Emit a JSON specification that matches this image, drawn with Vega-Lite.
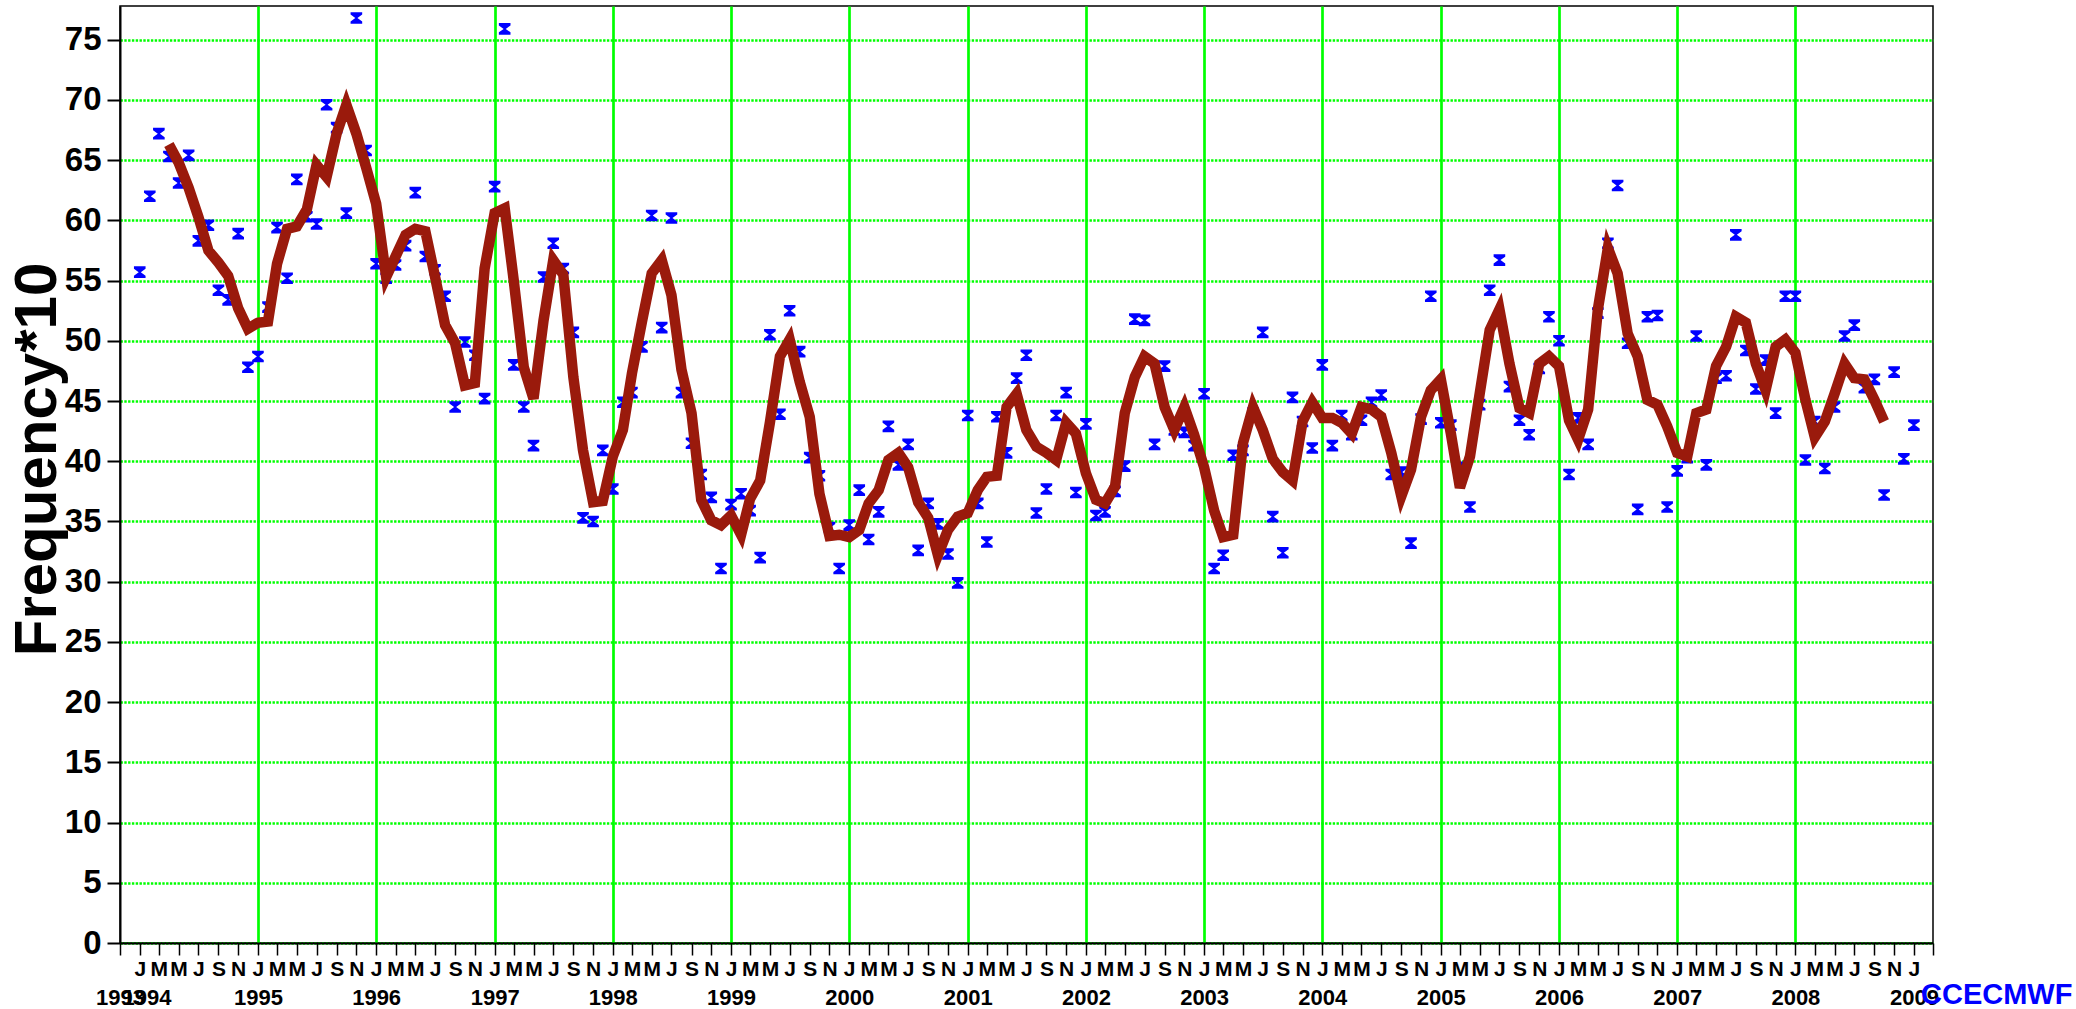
{
  "$schema": "https://vega.github.io/schema/vega-lite/v6.json",
  "width": 1813,
  "height": 937,
  "autosize": {"type": "none"},
  "padding": {"left": 120, "top": 6, "right": 143, "bottom": 66},
  "config": {"font": "Liberation Sans", "view": {"stroke": "#000", "strokeWidth": 1.5}},
  "title": {"text": "CCECMWF", "orient": "bottom", "anchor": "start", "frame": "group", "fontSize": 29, "fontWeight": "bold", "color": "#0000ff", "font": "Liberation Sans", "dx": 1801, "offset": 0, "dy": -4, "baseline": "alphabetic"},
  "datasets": {
    "points": [
      {"date": "1994-01-01", "value": 55.7}, {"date": "1994-02-01", "value": 62.0}, {"date": "1994-03-01", "value": 67.2}, {"date": "1994-04-01", "value": 65.3}, {"date": "1994-05-01", "value": 63.1}, {"date": "1994-06-01", "value": 65.4}, {"date": "1994-07-01", "value": 58.3}, {"date": "1994-08-01", "value": 59.6}, {"date": "1994-09-01", "value": 54.2}, {"date": "1994-10-01", "value": 53.4}, {"date": "1994-11-01", "value": 58.9}, {"date": "1994-12-01", "value": 47.8},
      {"date": "1995-01-01", "value": 48.7}, {"date": "1995-02-01", "value": 52.8}, {"date": "1995-03-01", "value": 59.4}, {"date": "1995-04-01", "value": 55.2}, {"date": "1995-05-01", "value": 63.4}, {"date": "1995-06-01", "value": 60.3}, {"date": "1995-07-01", "value": 59.7}, {"date": "1995-08-01", "value": 69.6}, {"date": "1995-09-01", "value": 67.7}, {"date": "1995-10-01", "value": 60.6}, {"date": "1995-11-01", "value": 76.8}, {"date": "1995-12-01", "value": 65.8},
      {"date": "1996-01-01", "value": 56.4}, {"date": "1996-02-01", "value": 55.2}, {"date": "1996-03-01", "value": 56.3}, {"date": "1996-04-01", "value": 57.9}, {"date": "1996-05-01", "value": 62.3}, {"date": "1996-06-01", "value": 57.0}, {"date": "1996-07-01", "value": 55.9}, {"date": "1996-08-01", "value": 53.7}, {"date": "1996-09-01", "value": 44.5}, {"date": "1996-10-01", "value": 49.9}, {"date": "1996-11-01", "value": 48.8}, {"date": "1996-12-01", "value": 45.2},
      {"date": "1997-01-01", "value": 62.8}, {"date": "1997-02-01", "value": 75.9}, {"date": "1997-03-01", "value": 48.0}, {"date": "1997-04-01", "value": 44.5}, {"date": "1997-05-01", "value": 41.3}, {"date": "1997-06-01", "value": 55.3}, {"date": "1997-07-01", "value": 58.1}, {"date": "1997-08-01", "value": 56.0}, {"date": "1997-09-01", "value": 50.7}, {"date": "1997-10-01", "value": 35.3}, {"date": "1997-11-01", "value": 35.0}, {"date": "1997-12-01", "value": 40.9},
      {"date": "1998-01-01", "value": 37.7}, {"date": "1998-02-01", "value": 44.9}, {"date": "1998-03-01", "value": 45.7}, {"date": "1998-04-01", "value": 49.5}, {"date": "1998-05-01", "value": 60.4}, {"date": "1998-06-01", "value": 51.1}, {"date": "1998-07-01", "value": 60.2}, {"date": "1998-08-01", "value": 45.7}, {"date": "1998-09-01", "value": 41.5}, {"date": "1998-10-01", "value": 38.9}, {"date": "1998-11-01", "value": 37.0}, {"date": "1998-12-01", "value": 31.1},
      {"date": "1999-01-01", "value": 36.4}, {"date": "1999-02-01", "value": 37.3}, {"date": "1999-03-01", "value": 35.9}, {"date": "1999-04-01", "value": 32.0}, {"date": "1999-05-01", "value": 50.5}, {"date": "1999-06-01", "value": 43.9}, {"date": "1999-07-01", "value": 52.5}, {"date": "1999-08-01", "value": 49.1}, {"date": "1999-09-01", "value": 40.3}, {"date": "1999-10-01", "value": 38.8}, {"date": "1999-11-01", "value": 34.5}, {"date": "1999-12-01", "value": 31.1},
      {"date": "2000-01-01", "value": 34.7}, {"date": "2000-02-01", "value": 37.6}, {"date": "2000-03-01", "value": 33.5}, {"date": "2000-04-01", "value": 35.8}, {"date": "2000-05-01", "value": 42.9}, {"date": "2000-06-01", "value": 39.7}, {"date": "2000-07-01", "value": 41.4}, {"date": "2000-08-01", "value": 32.6}, {"date": "2000-09-01", "value": 36.5}, {"date": "2000-10-01", "value": 34.8}, {"date": "2000-11-01", "value": 32.3}, {"date": "2000-12-01", "value": 29.9},
      {"date": "2001-01-01", "value": 43.8}, {"date": "2001-02-01", "value": 36.5}, {"date": "2001-03-01", "value": 33.3}, {"date": "2001-04-01", "value": 43.7}, {"date": "2001-05-01", "value": 40.7}, {"date": "2001-06-01", "value": 46.9}, {"date": "2001-07-01", "value": 48.8}, {"date": "2001-08-01", "value": 35.7}, {"date": "2001-09-01", "value": 37.7}, {"date": "2001-10-01", "value": 43.8}, {"date": "2001-11-01", "value": 45.7}, {"date": "2001-12-01", "value": 37.4},
      {"date": "2002-01-01", "value": 43.1}, {"date": "2002-02-01", "value": 35.5}, {"date": "2002-03-01", "value": 35.8}, {"date": "2002-04-01", "value": 37.5}, {"date": "2002-05-01", "value": 39.6}, {"date": "2002-06-01", "value": 51.8}, {"date": "2002-07-01", "value": 51.7}, {"date": "2002-08-01", "value": 41.4}, {"date": "2002-09-01", "value": 47.9}, {"date": "2002-10-01", "value": 42.6}, {"date": "2002-11-01", "value": 42.4}, {"date": "2002-12-01", "value": 41.3},
      {"date": "2003-01-01", "value": 45.6}, {"date": "2003-02-01", "value": 31.1}, {"date": "2003-03-01", "value": 32.2}, {"date": "2003-04-01", "value": 40.5}, {"date": "2003-05-01", "value": 40.9}, {"date": "2003-06-01", "value": 44.0}, {"date": "2003-07-01", "value": 50.7}, {"date": "2003-08-01", "value": 35.4}, {"date": "2003-09-01", "value": 32.4}, {"date": "2003-10-01", "value": 45.3}, {"date": "2003-11-01", "value": 43.3}, {"date": "2003-12-01", "value": 41.1},
      {"date": "2004-01-01", "value": 48.0}, {"date": "2004-02-01", "value": 41.3}, {"date": "2004-03-01", "value": 43.8}, {"date": "2004-04-01", "value": 42.2}, {"date": "2004-05-01", "value": 43.4}, {"date": "2004-06-01", "value": 44.9}, {"date": "2004-07-01", "value": 45.5}, {"date": "2004-08-01", "value": 38.9}, {"date": "2004-09-01", "value": 39.1}, {"date": "2004-10-01", "value": 33.2}, {"date": "2004-11-01", "value": 43.5}, {"date": "2004-12-01", "value": 53.7},
      {"date": "2005-01-01", "value": 43.2}, {"date": "2005-02-01", "value": 43.0}, {"date": "2005-03-01", "value": 39.5}, {"date": "2005-04-01", "value": 36.2}, {"date": "2005-05-01", "value": 44.7}, {"date": "2005-06-01", "value": 54.2}, {"date": "2005-07-01", "value": 56.7}, {"date": "2005-08-01", "value": 46.2}, {"date": "2005-09-01", "value": 43.4}, {"date": "2005-10-01", "value": 42.2}, {"date": "2005-11-01", "value": 47.7}, {"date": "2005-12-01", "value": 52.0},
      {"date": "2006-01-01", "value": 50.0}, {"date": "2006-02-01", "value": 38.9}, {"date": "2006-03-01", "value": 43.6}, {"date": "2006-04-01", "value": 41.4}, {"date": "2006-05-01", "value": 52.3}, {"date": "2006-06-01", "value": 58.1}, {"date": "2006-07-01", "value": 62.9}, {"date": "2006-08-01", "value": 49.8}, {"date": "2006-09-01", "value": 36.0}, {"date": "2006-10-01", "value": 52.0}, {"date": "2006-11-01", "value": 52.1}, {"date": "2006-12-01", "value": 36.2},
      {"date": "2007-01-01", "value": 39.2}, {"date": "2007-02-01", "value": 40.3}, {"date": "2007-03-01", "value": 50.4}, {"date": "2007-04-01", "value": 39.7}, {"date": "2007-05-01", "value": 46.9}, {"date": "2007-06-01", "value": 47.1}, {"date": "2007-07-01", "value": 58.8}, {"date": "2007-08-01", "value": 49.2}, {"date": "2007-09-01", "value": 46.0}, {"date": "2007-10-01", "value": 48.4}, {"date": "2007-11-01", "value": 44.0}, {"date": "2007-12-01", "value": 53.7},
      {"date": "2008-01-01", "value": 53.7}, {"date": "2008-02-01", "value": 40.1}, {"date": "2008-03-01", "value": 43.3}, {"date": "2008-04-01", "value": 39.4}, {"date": "2008-05-01", "value": 44.5}, {"date": "2008-06-01", "value": 50.4}, {"date": "2008-07-01", "value": 51.3}, {"date": "2008-08-01", "value": 46.1}, {"date": "2008-09-01", "value": 46.8}, {"date": "2008-10-01", "value": 37.2}, {"date": "2008-11-01", "value": 47.4}, {"date": "2008-12-01", "value": 40.2},
      {"date": "2009-01-01", "value": 43.0}
    ],
    "line": [
      {"date": "1994-04-01", "value": 66.3}, {"date": "1994-05-01", "value": 64.8}, {"date": "1994-06-01", "value": 62.7}, {"date": "1994-07-01", "value": 60.3}, {"date": "1994-08-01", "value": 57.5}, {"date": "1994-09-01", "value": 56.5}, {"date": "1994-10-01", "value": 55.4}, {"date": "1994-11-01", "value": 52.7}, {"date": "1994-12-01", "value": 51.0},
      {"date": "1995-01-01", "value": 51.5}, {"date": "1995-02-01", "value": 51.6}, {"date": "1995-03-01", "value": 56.4}, {"date": "1995-04-01", "value": 59.3}, {"date": "1995-05-01", "value": 59.5}, {"date": "1995-06-01", "value": 60.9}, {"date": "1995-07-01", "value": 64.6}, {"date": "1995-08-01", "value": 63.6}, {"date": "1995-09-01", "value": 67.2}, {"date": "1995-10-01", "value": 69.6}, {"date": "1995-11-01", "value": 67.2}, {"date": "1995-12-01", "value": 64.4},
      {"date": "1996-01-01", "value": 61.4}, {"date": "1996-02-01", "value": 55.3}, {"date": "1996-03-01", "value": 57.0}, {"date": "1996-04-01", "value": 58.8}, {"date": "1996-05-01", "value": 59.3}, {"date": "1996-06-01", "value": 59.1}, {"date": "1996-07-01", "value": 55.3}, {"date": "1996-08-01", "value": 51.3}, {"date": "1996-09-01", "value": 49.8}, {"date": "1996-10-01", "value": 46.3}, {"date": "1996-11-01", "value": 46.5}, {"date": "1996-12-01", "value": 56.0},
      {"date": "1997-01-01", "value": 60.6}, {"date": "1997-02-01", "value": 61.0}, {"date": "1997-03-01", "value": 55.0}, {"date": "1997-04-01", "value": 47.8}, {"date": "1997-05-01", "value": 45.2}, {"date": "1997-06-01", "value": 51.7}, {"date": "1997-07-01", "value": 56.7}, {"date": "1997-08-01", "value": 55.5}, {"date": "1997-09-01", "value": 47.0}, {"date": "1997-10-01", "value": 40.9}, {"date": "1997-11-01", "value": 36.6}, {"date": "1997-12-01", "value": 36.7},
      {"date": "1998-01-01", "value": 40.4}, {"date": "1998-02-01", "value": 42.6}, {"date": "1998-03-01", "value": 47.3}, {"date": "1998-04-01", "value": 51.6}, {"date": "1998-05-01", "value": 55.6}, {"date": "1998-06-01", "value": 56.7}, {"date": "1998-07-01", "value": 53.8}, {"date": "1998-08-01", "value": 47.6}, {"date": "1998-09-01", "value": 44.0}, {"date": "1998-10-01", "value": 36.8}, {"date": "1998-11-01", "value": 35.1}, {"date": "1998-12-01", "value": 34.7},
      {"date": "1999-01-01", "value": 35.5}, {"date": "1999-02-01", "value": 33.9}, {"date": "1999-03-01", "value": 36.9}, {"date": "1999-04-01", "value": 38.4}, {"date": "1999-05-01", "value": 43.2}, {"date": "1999-06-01", "value": 48.7}, {"date": "1999-07-01", "value": 50.1}, {"date": "1999-08-01", "value": 46.6}, {"date": "1999-09-01", "value": 43.7}, {"date": "1999-10-01", "value": 37.3}, {"date": "1999-11-01", "value": 33.8}, {"date": "1999-12-01", "value": 33.9},
      {"date": "2000-01-01", "value": 33.7}, {"date": "2000-02-01", "value": 34.3}, {"date": "2000-03-01", "value": 36.5}, {"date": "2000-04-01", "value": 37.6}, {"date": "2000-05-01", "value": 40.1}, {"date": "2000-06-01", "value": 40.7}, {"date": "2000-07-01", "value": 39.5}, {"date": "2000-08-01", "value": 36.6}, {"date": "2000-09-01", "value": 35.3}, {"date": "2000-10-01", "value": 32.2}, {"date": "2000-11-01", "value": 34.3}, {"date": "2000-12-01", "value": 35.4},
      {"date": "2001-01-01", "value": 35.7}, {"date": "2001-02-01", "value": 37.6}, {"date": "2001-03-01", "value": 38.7}, {"date": "2001-04-01", "value": 38.8}, {"date": "2001-05-01", "value": 44.5}, {"date": "2001-06-01", "value": 45.6}, {"date": "2001-07-01", "value": 42.6}, {"date": "2001-08-01", "value": 41.2}, {"date": "2001-09-01", "value": 40.7}, {"date": "2001-10-01", "value": 40.1}, {"date": "2001-11-01", "value": 43.2}, {"date": "2001-12-01", "value": 42.3},
      {"date": "2002-01-01", "value": 39.0}, {"date": "2002-02-01", "value": 36.8}, {"date": "2002-03-01", "value": 36.5}, {"date": "2002-04-01", "value": 37.9}, {"date": "2002-05-01", "value": 44.0}, {"date": "2002-06-01", "value": 47.0}, {"date": "2002-07-01", "value": 48.7}, {"date": "2002-08-01", "value": 48.1}, {"date": "2002-09-01", "value": 44.5}, {"date": "2002-10-01", "value": 42.6}, {"date": "2002-11-01", "value": 44.5}, {"date": "2002-12-01", "value": 42.2},
      {"date": "2003-01-01", "value": 39.5}, {"date": "2003-02-01", "value": 35.9}, {"date": "2003-03-01", "value": 33.7}, {"date": "2003-04-01", "value": 33.9}, {"date": "2003-05-01", "value": 41.5}, {"date": "2003-06-01", "value": 44.5}, {"date": "2003-07-01", "value": 42.6}, {"date": "2003-08-01", "value": 40.2}, {"date": "2003-09-01", "value": 39.1}, {"date": "2003-10-01", "value": 38.4}, {"date": "2003-11-01", "value": 43.3}, {"date": "2003-12-01", "value": 44.9},
      {"date": "2004-01-01", "value": 43.6}, {"date": "2004-02-01", "value": 43.6}, {"date": "2004-03-01", "value": 43.2}, {"date": "2004-04-01", "value": 42.3}, {"date": "2004-05-01", "value": 44.5}, {"date": "2004-06-01", "value": 44.3}, {"date": "2004-07-01", "value": 43.7}, {"date": "2004-08-01", "value": 40.7}, {"date": "2004-09-01", "value": 37.1}, {"date": "2004-10-01", "value": 39.3}, {"date": "2004-11-01", "value": 43.7}, {"date": "2004-12-01", "value": 45.9},
      {"date": "2005-01-01", "value": 46.8}, {"date": "2005-02-01", "value": 42.3}, {"date": "2005-03-01", "value": 37.8}, {"date": "2005-04-01", "value": 40.4}, {"date": "2005-05-01", "value": 45.6}, {"date": "2005-06-01", "value": 50.9}, {"date": "2005-07-01", "value": 52.6}, {"date": "2005-08-01", "value": 48.1}, {"date": "2005-09-01", "value": 44.4}, {"date": "2005-10-01", "value": 44.0}, {"date": "2005-11-01", "value": 48.1}, {"date": "2005-12-01", "value": 48.7},
      {"date": "2006-01-01", "value": 47.9}, {"date": "2006-02-01", "value": 43.4}, {"date": "2006-03-01", "value": 41.8}, {"date": "2006-04-01", "value": 44.3}, {"date": "2006-05-01", "value": 52.6}, {"date": "2006-06-01", "value": 57.7}, {"date": "2006-07-01", "value": 55.6}, {"date": "2006-08-01", "value": 50.6}, {"date": "2006-09-01", "value": 48.7}, {"date": "2006-10-01", "value": 45.1}, {"date": "2006-11-01", "value": 44.7}, {"date": "2006-12-01", "value": 42.9},
      {"date": "2007-01-01", "value": 40.7}, {"date": "2007-02-01", "value": 40.4}, {"date": "2007-03-01", "value": 44.0}, {"date": "2007-04-01", "value": 44.3}, {"date": "2007-05-01", "value": 47.9}, {"date": "2007-06-01", "value": 49.5}, {"date": "2007-07-01", "value": 52.0}, {"date": "2007-08-01", "value": 51.5}, {"date": "2007-09-01", "value": 48.1}, {"date": "2007-10-01", "value": 45.9}, {"date": "2007-11-01", "value": 49.5}, {"date": "2007-12-01", "value": 50.1},
      {"date": "2008-01-01", "value": 49.0}, {"date": "2008-02-01", "value": 45.1}, {"date": "2008-03-01", "value": 42.0}, {"date": "2008-04-01", "value": 43.3}, {"date": "2008-05-01", "value": 45.6}, {"date": "2008-06-01", "value": 48.1}, {"date": "2008-07-01", "value": 46.9}, {"date": "2008-08-01", "value": 46.8}, {"date": "2008-09-01", "value": 45.1}, {"date": "2008-10-01", "value": 43.3}
    ]
  },
  "layer": [
    {
      "data": {"name": "points"},
      "mark": {"type": "point", "shape": "M-1,-1L1,-1L1,-0.6L0.18,0L1,0.6L1,1L-1,1L-1,0.6L-0.18,0L-1,-0.6Z", "filled": true, "fill": "#0000ff", "size": 135, "opacity": 1, "strokeWidth": 0},
      "encoding": {
        "x": {
          "field": "date", "type": "temporal",
          "scale": {"type": "utc", "domain": [{"year": 1993, "month": 11, "date": 1, "utc": true}, {"year": 2009, "month": 3, "date": 1, "utc": true}]},
          "axis": {
            "orient": "bottom", "title": null, "grid": false,
            "tickCount": {"interval": "month", "step": 2},
            "tickSize": 12, "tickWidth": 1.5, "tickColor": "#000",
            "domainColor": "#000", "domainWidth": 2,
            "labelFontSize": 21, "labelFontWeight": "bold", "labelColor": "#000",
            "labelPadding": 3, "labelBaseline": "top", "labelAngle": 0,
            "labelOverlap": false, "labelFlush": false, "labelBound": false,
            "labelExpr": "(utcyear(datum.value) == 1993 || (utcyear(datum.value) == 2009 && utcmonth(datum.value) > 0)) ? '' : ['J','F','M','A','M','J','J','A','S','O','N','D'][utcmonth(datum.value)]"
          }
        },
        "y": {
          "field": "value", "type": "quantitative",
          "scale": {"domain": [0, 77.8], "nice": false},
          "axis": {
            "title": "Frequency*10",
            "values": [0, 5, 10, 15, 20, 25, 30, 35, 40, 45, 50, 55, 60, 65, 70, 75],
            "grid": true, "gridColor": "#00ff00", "gridDash": [2.4, 1.4], "gridWidth": 2.3, "gridOpacity": 1,
            "tickSize": 13, "tickWidth": 2, "tickColor": "#000",
            "domainColor": "#000", "domainWidth": 2,
            "labelFontSize": 33, "labelFontWeight": "bold", "labelColor": "#000", "labelPadding": 6,
            "titleFontSize": 60, "titleFontWeight": "bold", "titleColor": "#000",
            "titleX": -65, "titleY": 453, "titleAngle": -90, "titleBaseline": "alphabetic", "titleAlign": "center"
          }
        }
      }
    },
    {
      "data": {"name": "line"},
      "mark": {"type": "line", "color": "#9a1a0c", "strokeWidth": 10.5, "strokeJoin": "miter"},
      "encoding": {
        "x": {
          "field": "date", "type": "temporal",
          "scale": {"type": "utc", "domain": [{"year": 1993, "month": 11, "date": 1, "utc": true}, {"year": 2009, "month": 3, "date": 1, "utc": true}]},
          "axis": {
            "orient": "bottom", "title": null,
            "values": [
              {"year": 1993, "month": 11, "date": 1, "utc": true}, {"year": 1994, "month": 1, "date": 22, "utc": true},
              {"year": 1995, "month": 1, "date": 1, "utc": true}, {"year": 1996, "month": 1, "date": 1, "utc": true}, {"year": 1997, "month": 1, "date": 1, "utc": true}, {"year": 1998, "month": 1, "date": 1, "utc": true}, {"year": 1999, "month": 1, "date": 1, "utc": true}, {"year": 2000, "month": 1, "date": 1, "utc": true}, {"year": 2001, "month": 1, "date": 1, "utc": true}, {"year": 2002, "month": 1, "date": 1, "utc": true}, {"year": 2003, "month": 1, "date": 1, "utc": true}, {"year": 2004, "month": 1, "date": 1, "utc": true}, {"year": 2005, "month": 1, "date": 1, "utc": true}, {"year": 2006, "month": 1, "date": 1, "utc": true}, {"year": 2007, "month": 1, "date": 1, "utc": true}, {"year": 2008, "month": 1, "date": 1, "utc": true}, {"year": 2009, "month": 1, "date": 1, "utc": true}
            ],
            "grid": true, "gridColor": "#00ff00", "gridWidth": 2.7, "gridDash": [],
            "gridOpacity": {"condition": {"test": "utcyear(datum.value) < 1995 || utcyear(datum.value) > 2008", "value": 0}, "value": 1},
            "ticks": false, "tickSize": 0, "domain": false,
            "labels": true, "labelFontSize": 22, "labelFontWeight": "bold", "labelColor": "#000",
            "labelPadding": 44, "labelBaseline": "top", "labelAngle": 0,
            "labelOverlap": false, "labelFlush": false, "labelBound": false,
            "labelExpr": "'' + utcyear(datum.value)"
          }
        },
        "y": {"field": "value", "type": "quantitative", "scale": {"domain": [0, 77.8], "nice": false}}
      }
    }
  ],
  "resolve": {"axis": {"x": "independent"}}
}
